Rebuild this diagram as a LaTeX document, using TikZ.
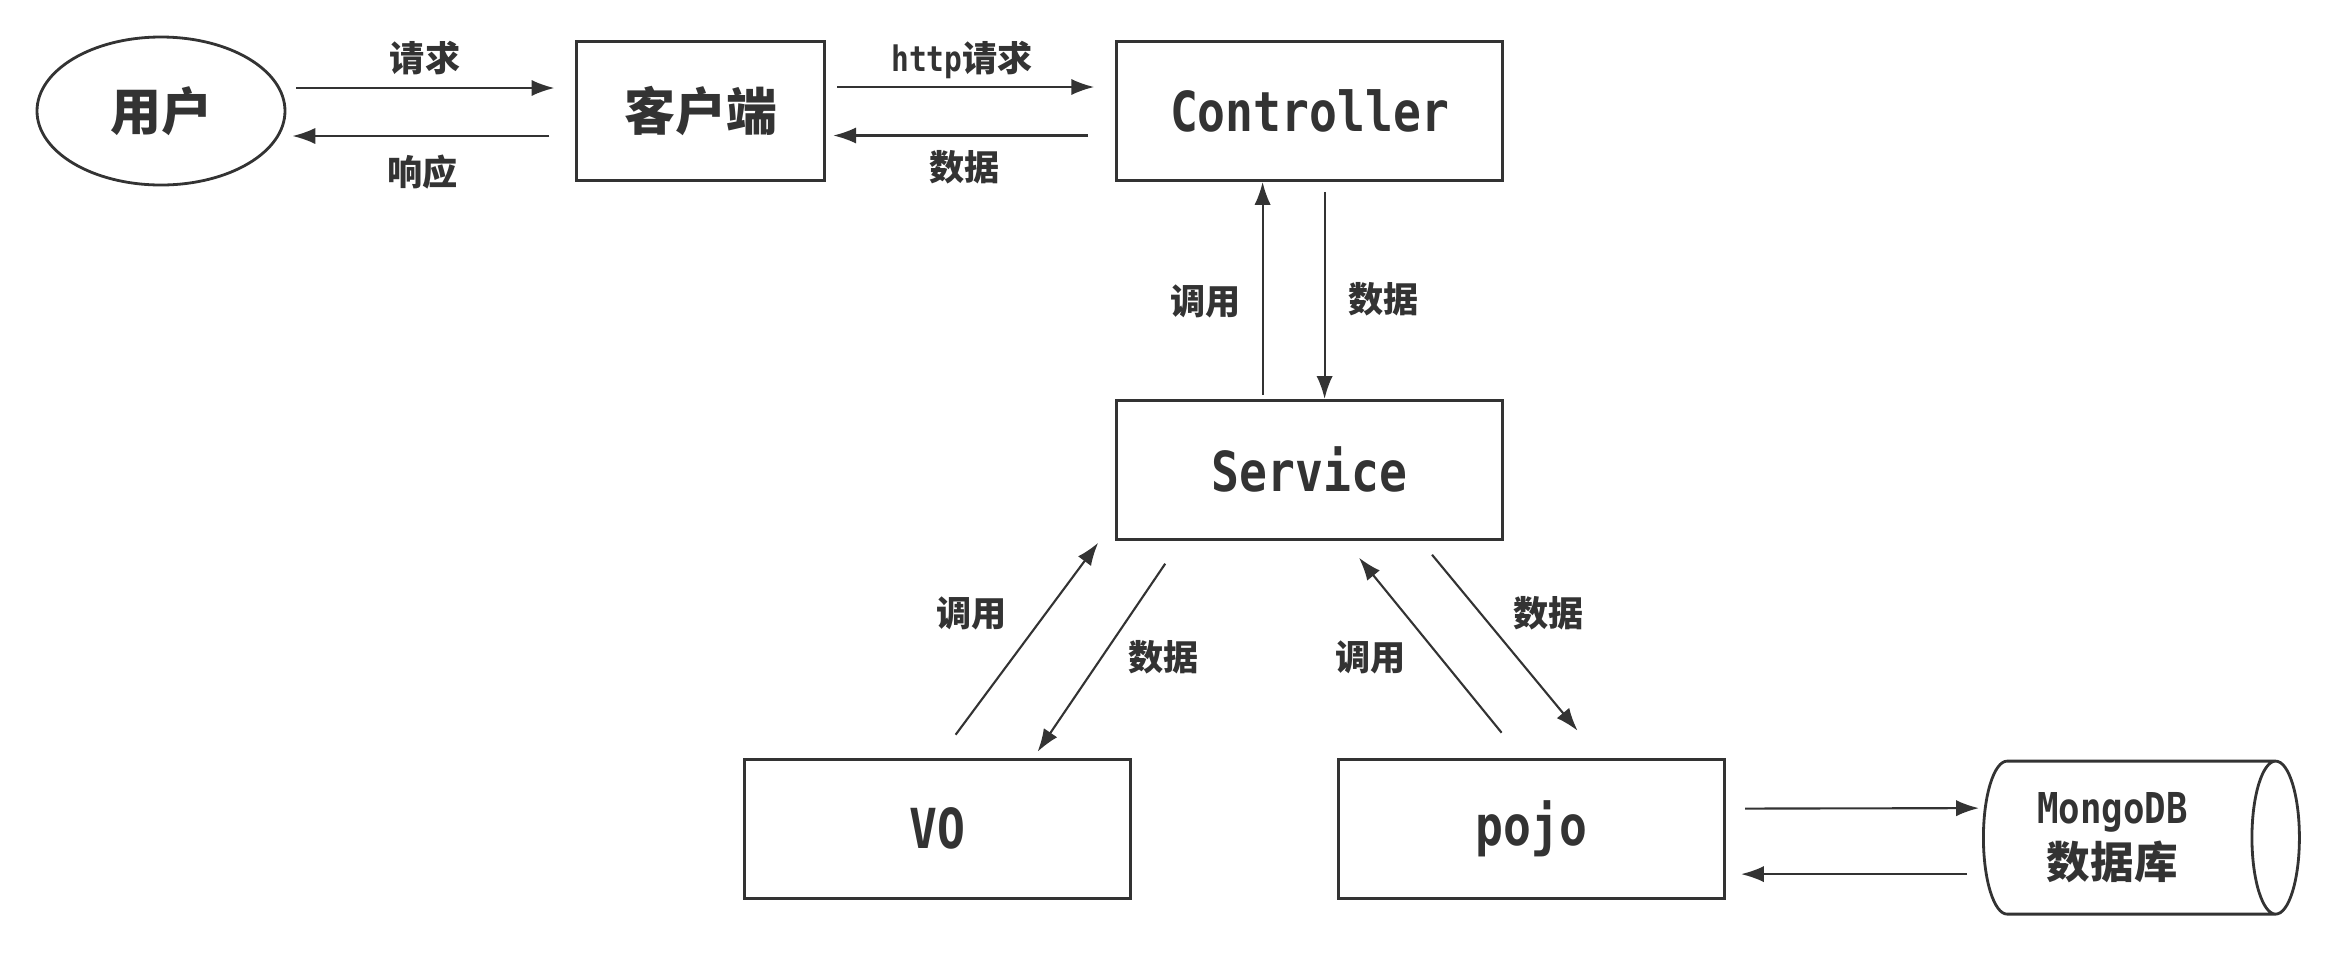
\documentclass[tikz,border=0pt]{standalone}
\usepackage{fontspec}
\setmainfont{Noto Sans CJK SC}
\newfontfamily\monof{DejaVu Sans Mono}
\usepackage{graphicx}
\usepackage{xcolor}
\usepackage{tikz}
\usetikzlibrary{shapes.geometric, arrows.meta, positioning}
\definecolor{linegray}{HTML}{333333}
\newcommand{\lat}[1]{\scalebox{0.84}[1]{\monof\bfseries #1}}
\newcommand{\bigcjk}{\bfseries\fontsize{14.5}{17}\selectfont}
\newcommand{\biglat}{\fontsize{15.7}{18}\selectfont}
\tikzstyle{arrow} = [line width=0.6pt, draw=linegray, -{Latex[length=6.5pt,width=4.6pt]}]
\tikzstyle{block} = [rectangle, draw=linegray, line width=0.8pt, text=linegray, minimum width=3.86cm, minimum height=1.39cm, inner sep=0pt]
\tikzstyle{userbox} = [ellipse, draw=linegray, line width=0.8pt, text=linegray, minimum width=2.48cm, minimum height=1.48cm, inner sep=0pt]
\tikzstyle{database} = [cylinder, shape border rotate=0, aspect=0.53, draw=linegray, line width=0.8pt, text=linegray, minimum width=1.53cm, minimum height=3.16cm, inner sep=0pt, align=center, font=\bfseries\fontsize{12.4}{15.4}\selectfont]
\tikzstyle{lbl} = [inner sep=2pt, text=linegray, font=\bfseries\fontsize{10}{12}\selectfont]

\begin{document}
\begin{tikzpicture}[x=0.1mm, y=-0.1mm, node distance=2.17cm]
    \useasboundingbox (0,0) rectangle (2338,954);
    % Nodes
    \node (user) [userbox] at (161,111) {\bigcjk 用户};
    \node (client) [block, minimum width=2.48cm, right=2.89cm of user] {\bigcjk 客户端};
    \node (controller) [block, font=\biglat, right=2.89cm of client] {\lat{Controller}};
    \node (service) [block, font=\biglat, below=of controller] {\lat{Service}};
    \node (vo) [block, font=\biglat, below=of service, xshift=-3.72cm] {\lat{VO}};
    \node (pojo) [block, font=\biglat, below=of service, xshift=2.22cm] {\lat{pojo}};
    \node (db) [database, right=2.56cm of pojo, yshift=-0.09cm] {{\fontsize{12.1}{14}\selectfont\lat{MongoDB}}\hspace*{0.33cm}\\数据库\hspace*{0.33cm}};

    % Arrows
    \draw [arrow, shorten <=0.1cm, shorten >=0.21cm] ([yshift=0.23cm]user.east) -- node[lbl, pos=0.48, above=1.5pt] {请求} ([yshift=0.23cm]client.west);
    \draw [arrow, shorten <=0.26cm, shorten >=0.06cm] ([yshift=-0.25cm]client.west) -- node[lbl, pos=0.53, below=3pt] {响应} ([yshift=-0.25cm]user.east);
    \draw [arrow, shorten <=0.11cm, shorten >=0.21cm] ([yshift=0.24cm]client.east) -- node[lbl, pos=0.47, above=0pt] {\lat{http}请求} ([yshift=0.24cm]controller.west);
    \draw [arrow, shorten <=0.27cm, shorten >=0.07cm] ([yshift=-0.245cm]controller.west) -- node[lbl, pos=0.52, below=2pt] {数据} ([yshift=-0.245cm]client.east);
    \draw [arrow, shorten <=0.04cm] ([xshift=-0.47cm]service.north) -- node[lbl, pos=0.45, left=4pt] {调用} ([xshift=-0.47cm]controller.south);
    \draw [arrow, shorten <=0.1cm] ([xshift=0.15cm]controller.south) -- node[lbl, pos=0.54, right=4.5pt] {数据} ([xshift=0.15cm]service.north);
    \draw [arrow] ([xshift=0.18cm, yshift=0.23cm]vo.north) -- node[lbl, pos=0.63, left=8.6pt] {调用} ([xshift=-0.17cm, yshift=-0.02cm]service.south west);
    \draw [arrow] ([xshift=0.5cm, yshift=-0.23cm]service.south west) -- node[lbl, pos=0.5, right=5.4pt] {数据} ([xshift=1cm, yshift=0.06cm]vo.north);
    \draw [arrow] ([xshift=-0.3cm, yshift=0.25cm]pojo.north) -- node[lbl, pos=0.43, left=7.5pt] {调用} ([xshift=-1.45cm, yshift=-0.17cm]service.south east);
    \draw [arrow] ([xshift=-0.72cm, yshift=-0.14cm]service.south east) -- node[lbl, pos=0.335, right=7pt] {数据} ([xshift=0.46cm, yshift=0.27cm]pojo.north);
    \draw [arrow, shorten <=0.19cm, shorten >=0.03cm] ([yshift=0.2cm]pojo.east) -- ([yshift=0.295cm]db.west);
    \draw [arrow, shorten <=0.15cm, shorten >=0.15cm] ([yshift=-0.365cm]db.west) -- ([yshift=-0.455cm]pojo.east);
\end{tikzpicture}
\end{document}
